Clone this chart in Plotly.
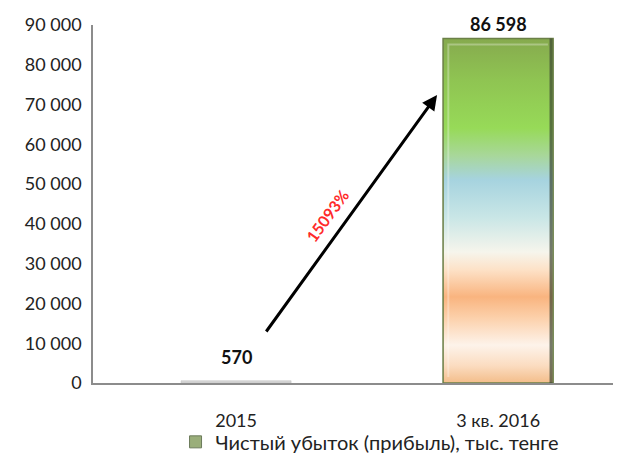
import plotly.graph_objects as go

categories = ["2015", "3 кв. 2016"]
values = [570, 86598]
growth_label = "15093%"
series_name = "Чистый убыток (прибыль), тыс. тенге"
y_ticks = [0, 10000, 20000, 30000, 40000, 50000, 60000, 70000, 80000, 90000]

# colour stops of the gradient bar, bottom to top (share of bar height)
grad_stops = [
    (0.00, "#f3bd8a"),
    (0.05, "#fbdcc0"),
    (0.11, "#fdf3ea"),
    (0.19, "#fcd0aa"),
    (0.25, "#f9b47f"),
    (0.33, "#fde2c8"),
    (0.38, "#f6f5ec"),
    (0.48, "#c9e6e6"),
    (0.59, "#a6d3df"),
    (0.66, "#a8d79a"),
    (0.74, "#97da58"),
    (0.88, "#8fc452"),
    (1.00, "#86aa4e"),
]

xs = list(range(len(categories)))
bar_w = 0.42
font = "Lato, Open Sans, sans-serif"

fig = go.Figure()

fig.add_trace(go.Bar(
    x=xs, y=values, width=bar_w,
    marker=dict(color=["#d6d6d6", "#f5c08e"], line=dict(color="#bfbfbf", width=0.5)),
    showlegend=False, hoverinfo="skip",
))

# gradient fill on top of the big bar
i = 1
x0, x1 = xs[i] - bar_w / 2, xs[i] + bar_w / 2
fig.add_trace(go.Scatter(
    x=[x0, x0, x1, x1, x0], y=[0, values[i], values[i], 0, 0],
    mode="lines", fill="toself",
    fillgradient=dict(type="vertical", start=0, stop=values[i], colorscale=grad_stops),
    line=dict(color="#6b8048", width=1.5),
    showlegend=False, hoverinfo="skip",
))

# bevel: light top/left edge, dark right edge
pad_x, pad_y = 0.02, 1500
fig.add_trace(go.Scatter(
    x=[x0 + pad_x, x0 + pad_x, x1 - pad_x],
    y=[pad_y, values[i] - pad_y, values[i] - pad_y],
    mode="lines", line=dict(color="rgba(255,255,255,0.3)", width=2),
    showlegend=False, hoverinfo="skip",
))
fig.add_trace(go.Scatter(
    x=[x1 - 0.008, x1 - 0.008], y=[0, values[i]],
    mode="lines", line=dict(color="rgba(60,70,50,0.7)", width=3),
    showlegend=False, hoverinfo="skip",
))

# legend-only entry
fig.add_trace(go.Bar(
    x=[None], y=[None], name=series_name,
    marker=dict(color="#9aae7a", line=dict(color="#6b7a5a", width=1)),
))

annotations = []
for x, v in zip(xs, values):
    annotations.append(dict(
        x=x, y=v, text=f"<b>{v:,}</b>".replace(",", " "),
        showarrow=False, yanchor="bottom", yshift=2 if v > 10000 else 11,
        font=dict(family=font, size=18, color="#111111"),
    ))

annotations.append(dict(
    x=0.767, y=72400, ax=0.111, ay=12570, axref="x", ayref="y", xref="x", yref="y",
    text="", showarrow=True, arrowhead=2, arrowsize=1, arrowwidth=3, arrowcolor="#000000",
))
annotations.append(dict(
    x=0.347, y=42200, text=f"<b>{growth_label}</b>", showarrow=False, textangle=-54,
    font=dict(family=font, size=16, color="#ff2a2a"),
))
fig.update_layout(annotations=annotations)

fig.update_xaxes(
    tickvals=xs, ticktext=categories, range=[-0.546, 1.469],
    showline=True, linecolor="#8c8c8c", linewidth=1.5, ticks="",
    showgrid=False, zeroline=False, ticklabelstandoff=21,
    tickfont=dict(family=font, size=18, color="#222222"),
)
fig.update_yaxes(
    range=[0, 90000], tickvals=y_ticks,
    ticktext=[f"{t:,}".replace(",", " ") for t in y_ticks],
    showline=True, linecolor="#8c8c8c", linewidth=1.5, ticks="",
    showgrid=False, zeroline=False, ticklabelstandoff=6,
    tickfont=dict(family=font, size=18, color="#222222"),
)

# page body adds an 8px offset, margins compensate for it
fig.update_layout(
    width=621, height=466,
    margin=dict(l=85, r=8, t=17, b=91, autoexpand=False),
    plot_bgcolor="white", paper_bgcolor="white",
    legend=dict(orientation="h", x=0.583, xref="container", xanchor="center",
                y=0.069, yref="container", yanchor="middle",
                bgcolor="rgba(0,0,0,0)",
                font=dict(family=font, size=20, color="#222222")),
)

fig.write_html("out.html")
